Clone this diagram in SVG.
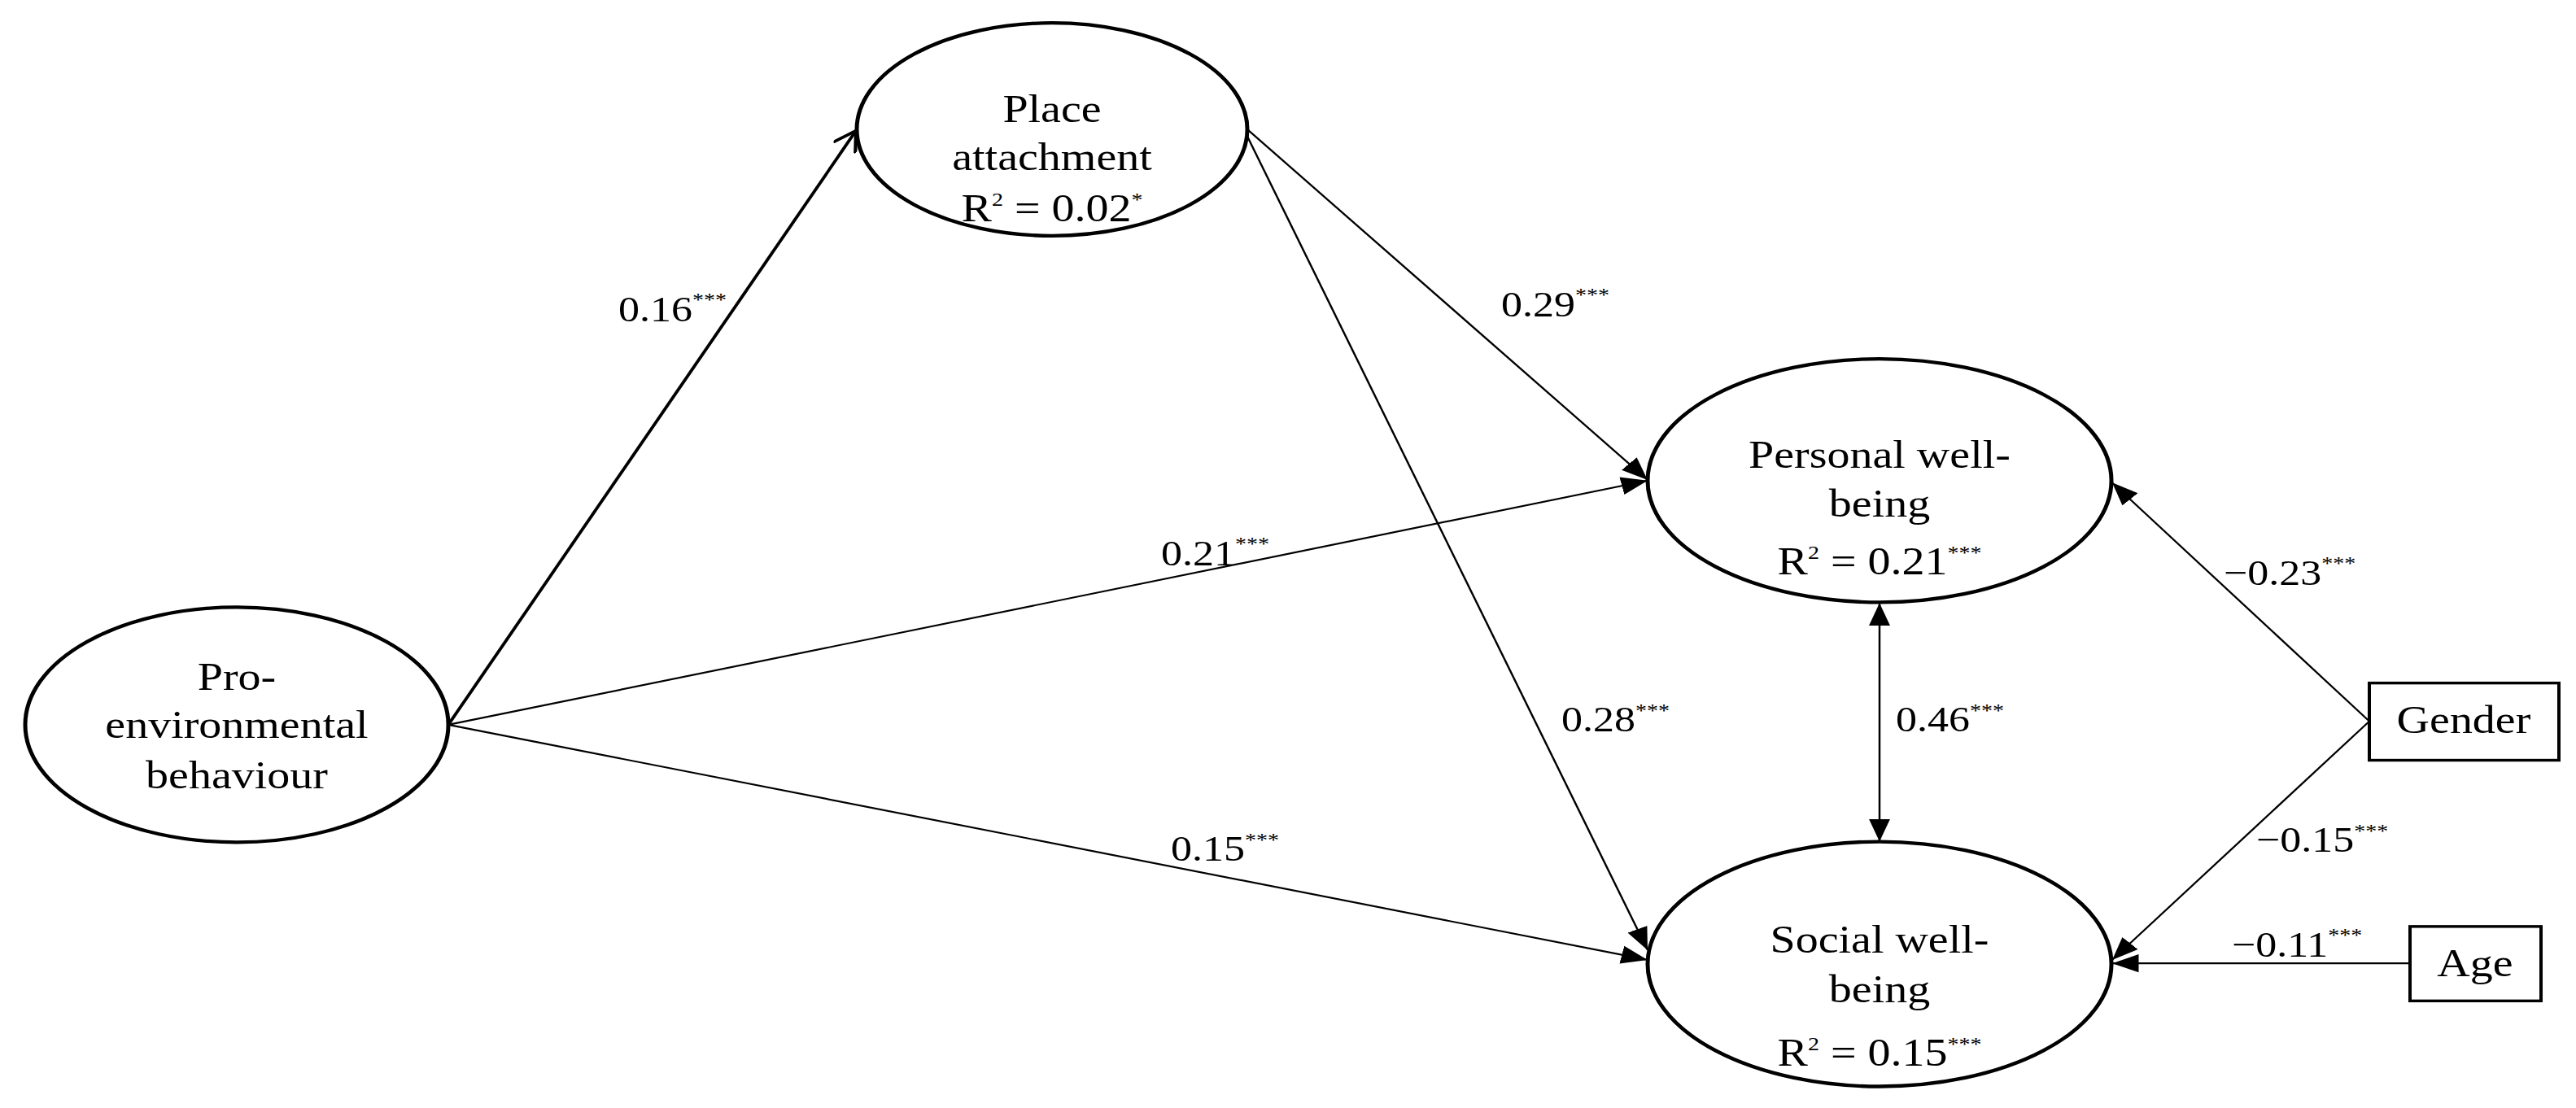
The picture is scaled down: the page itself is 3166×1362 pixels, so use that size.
<svg xmlns="http://www.w3.org/2000/svg" width="3166" height="1362" viewBox="0 0 3166 1362">
<style>
text{font-family:"Liberation Serif","DejaVu Serif",serif;fill:#000}
.n{font-size:56px;text-anchor:middle}
.l{font-size:52px}
.s{font-size:28px}
.e{fill:#fff;stroke:#000;stroke-width:5}
.c{stroke:#000;stroke-width:2.5;fill:none}
</style>
<defs>
<marker id="fa" viewBox="0 0 10 10" refX="10" refY="5" markerWidth="13" markerHeight="13" orient="auto-start-reverse"><path d="M0,1L10,5L0,9z" fill="#000"/></marker>
<marker id="o" viewBox="0 0 10 10" refX="9" refY="5" markerWidth="8" markerHeight="8" orient="auto"><path d="M0,0L9,5L0,10" fill="none" stroke="#000" stroke-width="1.3"/></marker>
</defs>
<g transform="scale(1,0.855)">
<g id="connectors">
<line class="c" x1="551" y1="1042" x2="1052" y2="188" style="stroke-width:4" marker-end="url(#o)"/>
<line class="c" x1="1533" y1="186" x2="2025" y2="690" marker-end="url(#fa)"/>
<line class="c" x1="1533" y1="196" x2="2025" y2="1366" marker-end="url(#fa)"/>
<line class="c" x1="551" y1="1042" x2="2025" y2="691" marker-end="url(#fa)"/>
<line class="c" x1="551" y1="1042" x2="2025" y2="1380" marker-end="url(#fa)"/>
<line class="c" x1="2912" y1="1037" x2="2596" y2="694" marker-end="url(#fa)"/>
<line class="c" x1="2912" y1="1037" x2="2596" y2="1380" marker-end="url(#fa)"/>
<line class="c" x1="2962" y1="1385" x2="2596" y2="1385" marker-end="url(#fa)"/>
<line class="c" x1="2310" y1="867" x2="2310" y2="1210" marker-start="url(#fa)" marker-end="url(#fa)"/>
<text class="l" x="760" y="462">0.16<tspan class="s" dy="-22">***</tspan></text>
<text class="l" x="1427" y="813">0.21<tspan class="s" dy="-22">***</tspan></text>
<text class="l" x="1439" y="1238">0.15<tspan class="s" dy="-22">***</tspan></text>
<text class="l" x="1845" y="455">0.29<tspan class="s" dy="-22">***</tspan></text>
<text class="l" x="1919" y="1052">0.28<tspan class="s" dy="-22">***</tspan></text>
<text class="l" x="2330" y="1052">0.46<tspan class="s" dy="-22">***</tspan></text>
<text class="l" x="2733" y="841">−0.23<tspan class="s" dy="-22">***</tspan></text>
<text class="l" x="2773" y="1225">−0.15<tspan class="s" dy="-22">***</tspan></text>
<text class="l" x="2743" y="1375">−0.11<tspan class="s" dy="-22">***</tspan></text>
</g>
<g id="place">
<ellipse class="e" cx="1293" cy="186" rx="240" ry="153"/>
<text class="n" x="1293" y="176">Place</text>
<text class="n" x="1293" y="245">attachment</text>
<text class="n" x="1293" y="318">R<tspan class="s" dy="-22">2</tspan><tspan dy="22"> = 0.02</tspan><tspan class="s" dy="-22">*</tspan></text>
</g>
<g id="pro">
<ellipse class="e" cx="291" cy="1042" rx="260" ry="169"/>
<text class="n" x="291" y="992">Pro-</text>
<text class="n" x="291" y="1061">environmental</text>
<text class="n" x="291" y="1133">behaviour</text>
</g>
<g id="personal">
<ellipse class="e" cx="2310" cy="691" rx="285" ry="175"/>
<text class="n" x="2310" y="672">Personal well-</text>
<text class="n" x="2310" y="743">being</text>
<text class="n" x="2310" y="826">R<tspan class="s" dy="-22">2</tspan><tspan dy="22"> = 0.21</tspan><tspan class="s" dy="-22">***</tspan></text>
</g>
<g id="social">
<ellipse class="e" cx="2310" cy="1386" rx="285" ry="176"/>
<text class="n" x="2310" y="1370">Social well-</text>
<text class="n" x="2310" y="1441">being</text>
<text class="n" x="2310" y="1532">R<tspan class="s" dy="-22">2</tspan><tspan dy="22"> = 0.15</tspan><tspan class="s" dy="-22">***</tspan></text>
</g>
<g id="gender">
<rect x="2912" y="982" width="233" height="111" fill="#fff" stroke="#000" stroke-width="4"/>
<text class="n" x="3028" y="1054">Gender</text>
</g>
<g id="age">
<rect x="2962" y="1332" width="161" height="107" fill="#fff" stroke="#000" stroke-width="4"/>
<text class="n" x="3042" y="1403">Age</text>
</g>
</g>
</svg>
